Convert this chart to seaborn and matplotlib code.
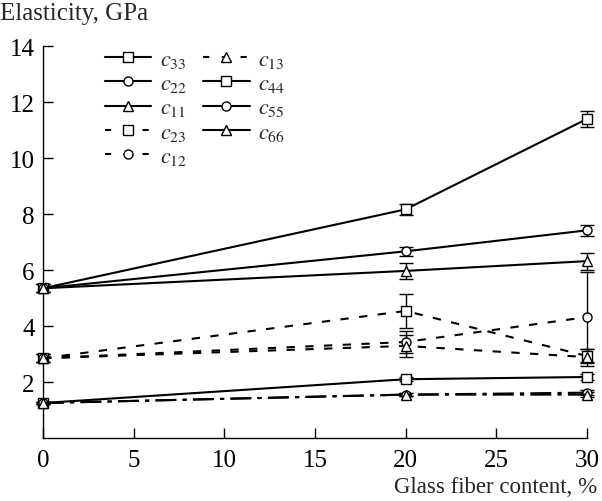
import numpy as np
import pandas as pd
import matplotlib
matplotlib.use("Agg")
import matplotlib.pyplot as plt
from matplotlib.lines import Line2D
import seaborn as sns

sns.set_theme(style="ticks")
plt.rcParams['font.family'] = ['Liberation Serif', 'DejaVu Serif']
plt.rcParams['mathtext.fontset'] = 'stix'

x_vals = [0, 20, 30]
series = ["c33", "c22", "c11", "c23", "c12", "c13", "c44", "c55", "c66"]
labels = [r"$c_{33}$", r"$c_{22}$", r"$c_{11}$", r"$c_{23}$", r"$c_{12}$",
          r"$c_{13}$", r"$c_{44}$", r"$c_{55}$", r"$c_{66}$"]
c33 = [5.35, 8.17, 11.4]
c22 = [5.35, 6.67, 7.42]
c11 = [5.35, 5.97, 6.32]
c23 = [2.85, 4.54, 2.93]
c12 = [2.85, 3.43, 4.32]
c13 = [2.85, 3.29, 2.89]
c44 = [1.25, 2.10, 2.18]
c55 = [1.25, 1.55, 1.62]
c66 = [1.25, 1.55, 1.55]
err33 = [0.15, 0.2, 0.3]
err22 = [0.15, 0.15, 0.2]
err11 = [0.15, 0.3, 0.3]
err23 = [0.15, 0.6, 0.25]
err12 = [0.15, 0.4, 1.6]
err13 = [0.15, 0.38, 0.3]
err44 = [0.05, 0.08, 0.12]
err55 = [0.05, 0.05, 0.08]
err66 = [0.05, 0.05, 0.08]

values = [c33, c22, c11, c23, c12, c13, c44, c55, c66]
errs = [err33, err22, err11, err23, err12, err13, err44, err55, err66]
marker_map = {"c33": "s", "c22": "o", "c11": "^", "c23": "s", "c12": "o",
              "c13": "^", "c44": "s", "c55": "o", "c66": "^"}
dash_map = {"c33": "", "c22": "", "c11": "", "c23": (4, 5), "c12": (4, 5),
            "c13": (4, 5), "c44": "", "c55": (10, 3, 2, 3), "c66": (10, 3, 2, 3)}
legend_dashed = {"c23", "c12", "c13"}

rows = []
for s, v in zip(series, values):
    for xx, yy in zip(x_vals, v):
        rows.append({"x": xx, "y": yy, "series": s})
df = pd.DataFrame(rows)

fig = plt.figure(figsize=(6.02, 5.02), dpi=100)
ax = fig.add_axes([0.0714, 0.1255, 0.9036, 0.7805])

sns.lineplot(data=df, x="x", y="y", hue="series", style="series",
             hue_order=series, style_order=series,
             palette={s: "black" for s in series},
             markers=marker_map, dashes=dash_map, sort=False,
             markersize=6.5, markerfacecolor="white", markeredgecolor="black",
             markeredgewidth=1.0, linewidth=1.5, legend=False, ax=ax,
             clip_on=False, zorder=3)
data_lines = list(ax.lines)
for ln in data_lines:
    ln.set_markerfacecolor("white")
    ln.set_markeredgecolor("black")
    ln.set_clip_on(False)

for v, e in zip(values, errs):
    ax.errorbar(x_vals, v, yerr=e, fmt="none", ecolor="black", elinewidth=1.0,
                capsize=5, capthick=1.0, zorder=2, clip_on=False)

ax.set_xlim(0, 30)
ax.set_ylim(0, 14)
ax.set_xticks([0, 5, 10, 15, 20, 25, 30])
ax.set_yticks([2, 4, 6, 8, 10, 12, 14])
ax.tick_params(direction="in", length=7, width=1, labelsize=18, colors="black")
ax.tick_params(axis="x", pad=8)
ax.tick_params(axis="y", pad=6)
for sp in ["top", "right"]:
    ax.spines[sp].set_visible(False)
for sp in ["left", "bottom"]:
    ax.spines[sp].set_color("black")
    ax.spines[sp].set_linewidth(1.0)
ax.set_xlabel("")
ax.set_ylabel("")

fig.text(0.0, 0.972, "Elasticity, GPa", fontsize=18, ha="left", va="center")
fig.text(0.992, 0.028, "Glass fiber content, %", fontsize=16.5, ha="right", va="center")

handles = []
for s in series:
    ls = (0, (3, 6)) if s in legend_dashed else "-"
    handles.append(Line2D([], [], color="black", linewidth=1.5, linestyle=ls,
                          marker=marker_map[s], markersize=6.5,
                          markerfacecolor="white", markeredgecolor="black",
                          markeredgewidth=1.0))

leg = ax.legend(handles, labels, ncol=2, loc="upper left",
                bbox_to_anchor=(0.097, 1.015), frameon=False, fontsize=16,
                handlelength=2.1, handletextpad=0.4, columnspacing=0.7,
                labelspacing=0.17, borderaxespad=0.0)

fig.savefig("out.png", dpi=100)
